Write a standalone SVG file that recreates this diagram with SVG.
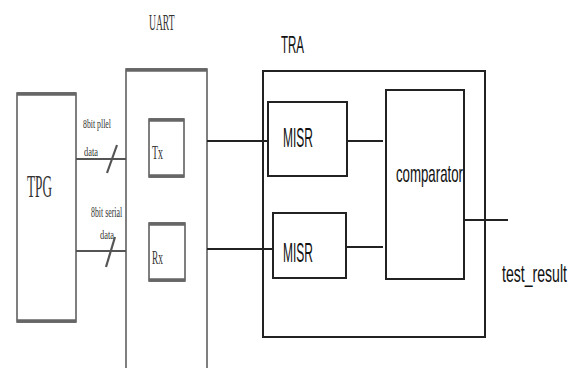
<svg xmlns="http://www.w3.org/2000/svg" width="579" height="368" viewBox="0 0 579 368">
<style>
.gbox{fill:none;stroke:#555;stroke-width:1.5}
.gcap{stroke:#666;stroke-width:3.5}
.box{fill:none;stroke:#222;stroke-width:2}
.wire{stroke:#222;stroke-width:2.2;fill:none}
.gwire{stroke:#555;stroke-width:2.2;fill:none}
.serif{font-family:"Liberation Serif",serif;fill:#333}
.sans{font-family:"Liberation Sans",sans-serif;fill:#111}
</style>
<rect width="579" height="368" fill="#fff"/>
<text class="serif" transform="translate(149,30) scale(0.4,1)" font-size="24">UART</text>
<text class="sans" transform="translate(281,53) scale(0.48,1)" font-size="24">TRA</text>
<g id="tpg">
<rect class="gbox" x="17" y="93" width="59" height="229"/>
<line class="gcap" x1="17" y1="94" x2="76" y2="94"/>
<line class="gcap" x1="17" y1="321" x2="76" y2="321"/>
<text class="serif" transform="translate(27,197) scale(0.427,1)" font-size="31">TPG</text>
</g>
<g id="uart">
<path class="gbox" d="M126,369 V69 H207 V369"/>
<line class="gcap" x1="126" y1="70" x2="207" y2="70"/>
</g>
<g id="tx">
<rect class="gbox" x="149" y="119" width="35" height="58"/>
<line class="gcap" x1="149" y1="120" x2="184" y2="120"/>
<line class="gcap" x1="149" y1="176" x2="184" y2="176"/>
<text class="serif" transform="translate(152,159) scale(0.55,1)" font-size="18">Tx</text>
</g>
<g id="rx">
<rect class="gbox" x="149" y="223" width="36" height="58"/>
<line class="gcap" x1="149" y1="224" x2="185" y2="224"/>
<line class="gcap" x1="149" y1="280" x2="185" y2="280"/>
<text class="serif" transform="translate(152,264) scale(0.52,1)" font-size="18">Rx</text>
</g>
<g id="tra">
<rect class="box" x="263" y="71" width="222" height="266"/>
</g>
<g id="misr1">
<rect class="box" x="268" y="102" width="79" height="74"/>
<text class="sans" transform="translate(283,147) scale(0.444,1)" font-size="27">MISR</text>
</g>
<g id="misr2">
<rect class="box" x="273" y="213" width="73" height="65"/>
<text class="sans" transform="translate(283,262) scale(0.444,1)" font-size="27">MISR</text>
</g>
<g id="comparator">
<rect class="box" x="386" y="90" width="78" height="189"/>
<text class="sans" transform="translate(396,182) scale(0.576,1)" font-size="23">comparator</text>
</g>
<g id="connectors">
<line class="gwire" x1="76" y1="159" x2="126" y2="159"/>
<line class="gwire" x1="107" y1="173" x2="117" y2="145" stroke-width="1.3"/>
<line class="gwire" x1="76" y1="251" x2="126" y2="251"/>
<line class="gwire" x1="106" y1="267" x2="115" y2="237" stroke-width="1.3"/>
<line class="wire" x1="207" y1="141" x2="268" y2="141"/>
<line class="wire" x1="207" y1="249" x2="273" y2="249"/>
<line class="wire" x1="347" y1="141" x2="383" y2="141"/>
<line class="wire" x1="346" y1="247" x2="383" y2="247"/>
<line class="wire" x1="464" y1="220" x2="508" y2="220"/>
</g>
<g id="labels">
<text class="serif" transform="translate(83,128) scale(0.6,1)" font-size="13">8bit pllel</text>
<text class="serif" transform="translate(84,156) scale(0.7,1)" font-size="12">data</text>
<text class="serif" transform="translate(91,217) scale(0.56,1)" font-size="14">8bit serial</text>
<text class="serif" transform="translate(100,239) scale(0.7,1)" font-size="12">data</text>
<text class="sans" transform="translate(502,282) scale(0.587,1)" font-size="24">test_result</text>
</g>
</svg>
